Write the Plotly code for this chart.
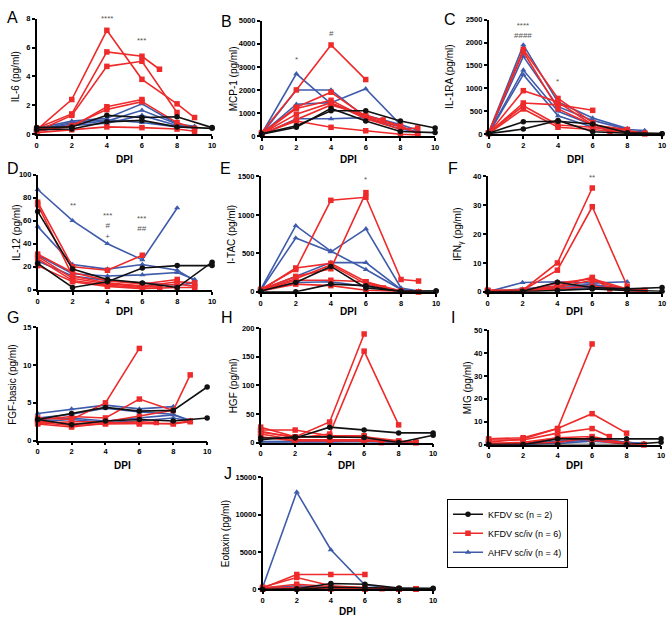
import plotly.graph_objects as go

# ---------------- data ----------------
DAYS_SC = [0, 2, 4, 6, 8, 10]
DAYS_IV = [[0, 2, 4, 6], [0, 2, 4, 6, 7], [0, 2, 4, 6, 8],
           [0, 2, 4, 6, 8, 9], [0, 2, 4, 6, 8, 9], [0, 2, 4, 6, 8, 9]]
DAYS_AH = [[0, 2, 4, 6, 8], [0, 2, 4, 6, 8, 9], [0, 2, 4, 6, 8, 9], [0, 2, 4, 6, 8, 9]]

X_TICKS = [0, 2, 4, 6, 8, 10]

IL6_SC = [[0.45, 0.5, 1.3, 1.15, 1.2, 0.45], [0.3, 0.35, 0.85, 0.95, 0.5, 0.4]]
IL6_IV = [[0.3, 0.5, 1.9, 2.4], [0.4, 1.4, 5.7, 5.4, 4.5], [0.2, 1.3, 4.7, 5.05, 1.5],
          [0.3, 2.4, 7.2, 3.8, 2.1, 1.15], [0.2, 0.6, 1.7, 2.25, 0.8, 0.4],
          [0.1, 0.3, 0.5, 0.45, 0.35, 0.2]]
IL6_AH = [[0.4, 0.9, 1.1, 2.1, 0.7], [0.3, 0.7, 0.9, 1.65, 0.7, 0.55],
          [0.2, 0.6, 0.75, 1.3, 0.6, 0.5], [0.3, 0.8, 1.0, 0.8, 0.5, 0.45]]

MCP1_SC = [[100, 450, 1100, 1100, 650, 350], [80, 380, 1200, 650, 200, 150]]
MCP1_IV = [[150, 2000, 3950, 2450], [120, 1250, 1900, 850, 700], [100, 1200, 1550, 800, 400],
           [100, 950, 1450, 750, 300, 350], [80, 700, 1350, 900, 450, 100],
           [100, 650, 380, 230, 80, 50]]
MCP1_AH = [[100, 2700, 1400, 900, 500], [80, 2000, 2000, 800, 300, 200],
           [100, 1380, 1450, 2050, 500, 250], [60, 750, 750, 800, 400, 150]]

IL1RA_SC = [[20, 270, 280, 220, 30, 10], [10, 110, 300, 50, 20, 10]]
IL1RA_IV = [[20, 680, 640, 520], [30, 1850, 780, 250, 30], [20, 1800, 550, 200, 100],
            [15, 950, 700, 200, 80, 20], [20, 620, 200, 150, 50, 10],
            [10, 550, 150, 100, 30, 10]]
IL1RA_AH = [[30, 1950, 700, 350, 120], [20, 1700, 600, 300, 100, 80],
            [20, 1400, 500, 200, 60, 50], [10, 1300, 400, 150, 50, 30]]

IL12_SC = [[68, 18, 9, 6, 2, 24], [23, 2, 7, 19, 21, 21]]
IL12_IV = [[76, 20, 17, 30], [74, 12, 6, 3, 2], [31, 15, 8, 5, 9],
           [29, 10, 5, 3, 7, 6], [27, 8, 4, 2, 5, 3], [21, 7, 3, 1, 2, 2]]
IL12_AH = [[87, 60, 40, 26, 71], [55, 22, 18, 22, 17, 8],
           [30, 14, 12, 13, 15, 9], [25, 12, 8, 6, 4, 6]]

ITAC_SC = [[10, 120, 330, 50, 10, 10], [0, 0, 100, 80, 0, 10]]
ITAC_IV = [[30, 200, 300, 1290], [20, 310, 370, 130, 50], [20, 170, 350, 100, 10],
           [30, 290, 1190, 1230, 160, 140], [10, 150, 150, 130, 10, 0],
           [10, 100, 80, 20, 5, 0]]
ITAC_AH = [[30, 860, 530, 290, 30], [20, 700, 520, 820, 50, 10],
           [20, 200, 380, 380, 30, 5], [10, 120, 130, 70, 10, 5]]

IFNG_SC = [[0, 0.2, 3.3, 1.5, 1, 1.5], [0, 0, 0.5, 1, 0.5, 0.2]]
IFNG_IV = [[0.5, 0.5, 10, 36], [0.3, 0.5, 2, 5, 1], [0.5, 0.5, 7.5, 29.5, 2],
           [0.2, 0.3, 3, 4.5, 1, 0.5], [0.2, 0.3, 1.5, 4, 0.5, 0.3],
           [0.1, 0.2, 1, 2, 0.3, 0.2]]
IFNG_AH = [[0, 3.2, 3.5, 3, 3.5], [0, 1, 2, 2.5, 1, 0.5],
           [0, 0.5, 1.5, 2, 1, 0.3], [0, 0.3, 1, 1.5, 0.5, 0.2]]

FGF_SC = [[2.8, 3.6, 4.4, 3.9, 4.0, 7.1], [2.8, 2.1, 2.6, 2.8, 2.6, 3.0]]
FGF_IV = [[3.0, 2.8, 5.0, 12.2], [2.2, 1.8, 2.3, 2.5, 2.4], [2.8, 3.2, 3.0, 5.5, 4.0],
          [2.3, 2.5, 2.5, 3.2, 4.0, 8.7], [2.6, 2.2, 2.4, 2.3, 2.2, 2.5],
          [2.4, 2.0, 2.2, 2.2, 2.3, 2.6]]
FGF_AH = [[3.6, 4.2, 4.7, 4.2, 4.5], [3.0, 3.5, 4.3, 3.8, 3.5, 2.6],
          [2.8, 3.0, 2.6, 3.0, 3.4, 2.7], [2.5, 2.8, 2.4, 2.6, 3.0, 2.6]]

HGF_SC = [[8, 8, 27, 22, 17, 17], [5, 10, 10, 9, 0, 13]]
HGF_IV = [[27, 10, 36, 190], [22, 22, 12, 12, 0], [20, 8, 15, 160, 31],
          [18, 10, 10, 10, 3, 0], [15, 5, 5, 5, 2, 1], [10, 3, 3, 3, 1, 0]]
HGF_AH = [[0, 0, 0, 5, 0], [2, 2, 3, 3, 1, 0], [1, 1, 2, 2, 1, 0], [0, 1, 1, 1, 0, 0]]

MIG_SC = [[0, 0, 2.5, 2.5, 2.5, 2.5], [0, 0, 0, 0, 0, 1]]
MIG_IV = [[2.5, 3, 7, 44], [2, 2, 5, 7, 3.5], [1, 2.5, 7, 13.5, 5],
          [0.5, 1, 3, 3.5, 0.5, 0], [0.5, 0.5, 1, 3, 0.5, 0], [0.3, 0.5, 3, 2, 0, 0]]
MIG_AH = [[0, 0, 1, 3, 1], [0, 0, 1.5, 2.5, 1, 0.5], [0, 0, 0.5, 1.5, 0.5, 0.3],
          [0, 0, 1, 2, 1, 0.5]]

EOT_SC = [[0, 100, 800, 700, 200, 150], [0, 0, 300, 200, 100, 100]]
EOT_IV = [[200, 2000, 2000, 2000], [300, 1600, 500, 200, 100], [200, 700, 400, 200, 100],
          [100, 300, 200, 100, 50, 100], [100, 200, 100, 100, 50, 50],
          [50, 100, 100, 50, 30, 30]]
EOT_AH = [[300, 13000, 5300, 600, 100], [200, 500, 300, 200, 100, 50],
          [100, 300, 200, 100, 50, 30], [100, 200, 100, 100, 50, 30]]

PANEL_LETTERS = ["A", "B", "C", "D", "E", "F", "G", "H", "I", "J"]
Y_TITLES = ["IL-6 (pg/ml)", "MCP-1 (pg/ml)", "IL-1RA (pg/ml)", "IL-12 (pg/ml)",
            "I-TAC (pg/ml)", "IFN<sub>γ</sub> (pg/ml)", "FGF-basic (pg/ml)",
            "HGF (pg/ml)", "MIG (pg/ml)", "Eotaxin (pg/ml)"]
X_TITLE = "DPI"
Y_MAX = [8, 5000, 2500, 100, 1500, 40, 15, 200, 50, 15000]
Y_STEP = [2, 1000, 500, 20, 500, 10, 5, 50, 10, 5000]

SERIES_NAMES = ["KFDV sc (n = 2)", "KFDV sc/iv (n = 6)", "AHFV sc/iv (n = 4)"]

# significance marks: panel index, day, centre value, text
SIG_PANEL = [0, 0, 1, 1, 2, 2, 3, 3, 3, 4, 5]
SIG_X = [4, 6, 2, 4, 2, 4, 2, 4, 6, 6, 6]
SIG_Y = [8.0, 6.5, 3300, 4450, 2265, 1140, 73, 55.5, 57.5, 1460, 39.5]
SIG_TEXT = ["****", "***", "*", "#", "****<br>####", "*", "**", "***<br>#<br>+",
            "***<br>##", "*", "**"]

PANEL_DATA = [
    (IL6_SC, IL6_IV, IL6_AH), (MCP1_SC, MCP1_IV, MCP1_AH), (IL1RA_SC, IL1RA_IV, IL1RA_AH),
    (IL12_SC, IL12_IV, IL12_AH), (ITAC_SC, ITAC_IV, ITAC_AH), (IFNG_SC, IFNG_IV, IFNG_AH),
    (FGF_SC, FGF_IV, FGF_AH), (HGF_SC, HGF_IV, HGF_AH), (MIG_SC, MIG_IV, MIG_AH),
    (EOT_SC, EOT_IV, EOT_AH),
]

# ---------------- layout geometry (pixels) ----------------
W, H = 672, 626
# (x0, x1, ytop, ybottom) of each plot area
BOXES = [
    (35, 212, 15, 132), (262, 437, 17, 134), (491, 666, 16, 132),
    (36, 212, 173, 290), (261, 438, 175, 292), (490, 666, 175, 292),
    (36, 207, 328, 443), (261, 435, 329, 445), (491, 665, 331, 447),
    (263, 435, 480, 594),
]
LETTER_POS = [(3, 14), (219, 18), (444, 16), (3, 167), (218, 167), (448, 167),
              (3, 318), (219, 318), (451, 318), (222, 476)]
YTITLE_X = [14, 233, 452, 14, 231, 460, 11, 234, 470, 225]
XTITLE_Y = [158, 158, 158, 312, 312, 312, 468, 468, 468, 616]

BLACK = "#111111"
RED = "#ee2a2a"
BLUE = "#3f5bab"
COLORS = [BLACK, RED, BLUE]
SYMBOLS = ["circle", "square", "triangle-up"]
FONT = "Liberation Sans, Arial, sans-serif"

fig = go.Figure()
layout = {}
annotations = []

for p, (sc, iv, ah) in enumerate(PANEL_DATA):
    sfx = "" if p == 0 else str(p + 1)
    xa, ya = "x" + sfx, "y" + sfx
    groups = [(2, DAYS_AH, ah), (1, DAYS_IV, iv), (0, [DAYS_SC] * len(sc), sc)]
    for g, days_list, vals_list in groups:
        for k, (days, vals) in enumerate(zip(days_list, vals_list)):
            fig.add_trace(go.Scatter(
                x=days, y=vals, xaxis=xa, yaxis=ya, mode="lines+markers",
                line=dict(color=COLORS[g], width=1.6),
                marker=dict(symbol=SYMBOLS[g], size=5.5, color=COLORS[g]),
                cliponaxis=False, name=SERIES_NAMES[g], legendgroup=str(g),
                legendrank=g + 1,
                showlegend=(p == 0 and k == 0), hoverinfo="x+y",
            ))
    x0, x1, yt, yb = BOXES[p]
    axis_common = dict(showline=True, linecolor="black", linewidth=1.5, ticks="outside",
                       ticklen=3, tickwidth=1.5, tickcolor="black", showgrid=False,
                       zeroline=False, ticklabeloverflow="allow", tickformat="d",
                       tickfont=dict(family=FONT, size=7.5, color="black", weight="bold"))
    layout["xaxis" + sfx] = dict(
        domain=[x0 / W, x1 / W], anchor=ya, range=[0, 10], tickvals=X_TICKS,
        **axis_common)
    layout["yaxis" + sfx] = dict(
        domain=[1 - yb / H, 1 - yt / H], anchor=xa, range=[0, Y_MAX[p]],
        tickvals=list(range(0, Y_MAX[p] + 1, Y_STEP[p])),
        **axis_common)
    # axis titles
    annotations.append(dict(text=Y_TITLES[p], x=YTITLE_X[p] / W, y=1 - (yt + yb) / 2 / H,
                            xref="paper", yref="paper", textangle=-90, showarrow=False,
                            xanchor="center", yanchor="middle",
                            font=dict(family=FONT, size=10, color="black")))
    annotations.append(dict(text=X_TITLE, x=(x0 + x1) / 2 / W, y=1 - XTITLE_Y[p] / H,
                            xref="paper", yref="paper", showarrow=False,
                            xanchor="center", yanchor="middle",
                            font=dict(family=FONT, size=10, color="black", weight="bold")))
    lx, ly = LETTER_POS[p]
    annotations.append(dict(text=PANEL_LETTERS[p], x=lx / W, y=1 - ly / H, xref="paper",
                            yref="paper", xanchor="left", yanchor="middle", showarrow=False,
                            font=dict(family=FONT, size=16, color="black")))

for pi, sx, sy, st in zip(SIG_PANEL, SIG_X, SIG_Y, SIG_TEXT):
    sfx = "" if pi == 0 else str(pi + 1)
    annotations.append(dict(text=st, x=sx, y=sy, xref="x" + sfx, yref="y" + sfx,
                            showarrow=False, xanchor="center", yanchor="middle",
                            font=dict(family=FONT, size=8, color="#555555")))

fig.update_layout(
    width=W, height=H, margin=dict(l=0, r=0, t=0, b=0),
    paper_bgcolor="white", plot_bgcolor="white",
    font=dict(family=FONT, color="black"),
    annotations=annotations,
    legend=dict(x=449 / W, y=1 - 502 / H, xanchor="left", yanchor="top",
                bordercolor="black", borderwidth=1, bgcolor="white",
                font=dict(family=FONT, size=9, color="black"),
                itemwidth=30, tracegroupgap=0, traceorder="normal"),
    **layout,
)

fig.write_html("out.html", config={"displayModeBar": False},
               post_script="document.body.style.margin='0';")
